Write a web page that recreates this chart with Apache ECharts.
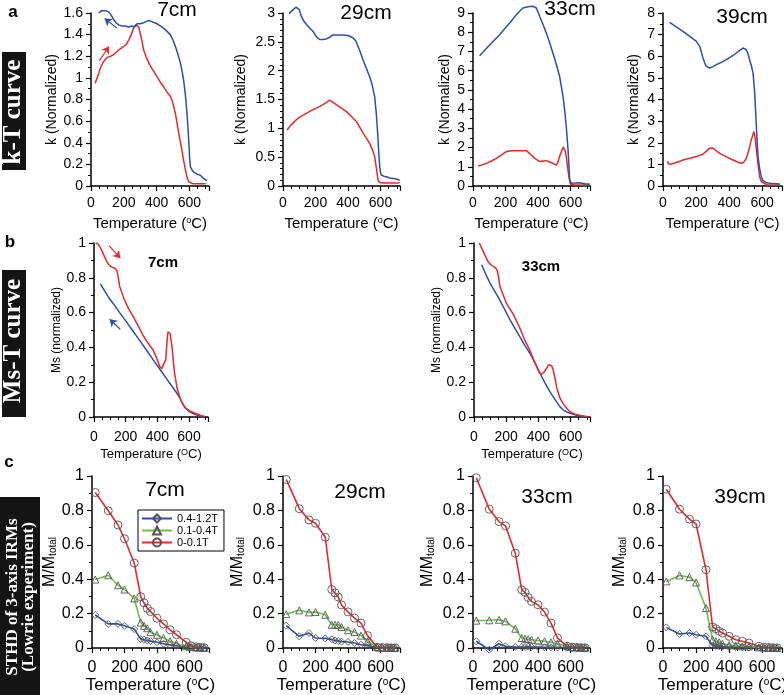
<!DOCTYPE html>
<html><head><meta charset="utf-8">
<script src="https://cdn.jsdelivr.net/npm/echarts@6/dist/echarts.min.js"></script>
<style>html,body{margin:0;padding:0;background:#fff}#c{width:784px;height:695px}</style>
</head><body><div id="c"></div>
<script>
// ---------------- DATA ----------------
// Row a: k-T curves  [temperature, k]
const kT7_heat = [[25,0.95],[31,0.96],[45,1.03],[57,1.09],[72,1.14],[87,1.17],[100,1.19],[118,1.20],[133,1.21],[148,1.23],[170,1.26],[199,1.29],[215,1.31],[230,1.35],[245,1.40],[260,1.46],[272,1.49],[281,1.50],[291,1.47],[301,1.41],[311,1.34],[321,1.26],[340,1.18],[362,1.11],[383,1.06],[403,1.01],[423,0.96],[443,0.92],[463,0.87],[484,0.83],[495,0.79],[504,0.74],[515,0.67],[525,0.58],[540,0.45],[555,0.33],[566,0.23],[576,0.15],[586,0.08],[596,0.04],[610,0.03],[626,0.02],[650,0.02],[675,0.02],[700,0.02]];
const kT7_cool = [[47,1.60],[62,1.62],[77,1.62],[92,1.62],[108,1.61],[123,1.58],[138,1.54],[153,1.51],[169,1.49],[189,1.48],[209,1.48],[230,1.47],[250,1.48],[265,1.47],[281,1.50],[300,1.50],[321,1.51],[337,1.52],[352,1.53],[372,1.52],[403,1.50],[423,1.48],[443,1.46],[464,1.43],[484,1.40],[500,1.35],[515,1.29],[530,1.22],[545,1.14],[556,1.06],[565,0.98],[574,0.87],[582,0.74],[590,0.58],[596,0.43],[601,0.28],[606,0.18],[616,0.15],[626,0.13],[646,0.11],[667,0.10],[687,0.07],[708,0.05]];
const kT29_heat = [[25,0.97],[50,1.06],[82,1.15],[113,1.21],[144,1.26],[175,1.31],[205,1.35],[226,1.38],[246,1.41],[267,1.45],[287,1.49],[308,1.45],[328,1.41],[359,1.35],[390,1.29],[420,1.21],[451,1.12],[472,1.02],[492,0.92],[513,0.83],[533,0.74],[549,0.64],[564,0.51],[575,0.30],[585,0.10],[595,0.06],[620,0.05],[660,0.05],[700,0.05],[718,0.06]];
const kT29_cool = [[37,2.99],[60,3.05],[80,3.10],[92,3.13],[100,3.06],[113,2.94],[128,2.86],[144,2.80],[165,2.74],[185,2.68],[205,2.59],[226,2.54],[246,2.54],[267,2.55],[287,2.58],[308,2.62],[338,2.62],[369,2.62],[400,2.61],[431,2.57],[447,2.52],[462,2.42],[477,2.31],[492,2.19],[513,2.04],[533,1.90],[549,1.75],[564,1.55],[574,1.26],[580,1.02],[585,0.80],[590,0.55],[595,0.34],[600,0.24],[605,0.19],[620,0.17],[636,0.16],[656,0.14],[677,0.13],[697,0.12],[718,0.10]];
const kT33_heat = [[31,1.04],[56,1.10],[82,1.18],[113,1.30],[144,1.44],[175,1.62],[205,1.79],[226,1.82],[246,1.84],[287,1.84],[328,1.84],[348,1.70],[369,1.53],[390,1.38],[410,1.27],[431,1.30],[451,1.32],[472,1.25],[492,1.18],[513,1.09],[523,1.25],[533,1.53],[546,1.85],[556,2.02],[562,2.00],[568,1.80],[574,1.53],[582,1.00],[590,0.49],[599,0.10],[620,0.06],[660,0.05],[700,0.05],[718,0.06]];
const kT33_cool = [[41,6.78],[82,7.15],[123,7.52],[164,7.87],[195,8.18],[226,8.48],[256,8.80],[287,9.09],[308,9.26],[338,9.33],[369,9.35],[390,9.26],[400,9.05],[410,8.83],[431,8.40],[451,7.96],[472,7.45],[492,6.91],[513,6.32],[533,5.70],[554,4.66],[564,3.95],[574,3.09],[585,1.88],[590,1.10],[595,0.31],[605,0.14],[630,0.15],[656,0.17],[687,0.12],[718,0.10]];
const kT39_heat = [[28,1.15],[32,1.02],[50,1.02],[85,1.10],[121,1.20],[162,1.28],[202,1.36],[242,1.48],[262,1.60],[282,1.75],[303,1.75],[323,1.62],[343,1.51],[383,1.35],[424,1.20],[454,1.10],[474,1.05],[489,1.10],[504,1.28],[519,1.65],[534,2.13],[545,2.40],[551,2.52],[558,2.20],[565,1.67],[575,1.00],[585,0.43],[595,0.20],[605,0.12],[625,0.06],[665,0.05],[706,0.05]];
const kT39_cool = [[40,7.57],[80,7.36],[121,7.15],[162,6.92],[202,6.69],[222,6.46],[232,6.20],[242,5.92],[252,5.70],[262,5.53],[282,5.45],[303,5.52],[323,5.61],[353,5.72],[383,5.84],[413,5.98],[444,6.15],[464,6.27],[484,6.38],[494,6.36],[504,6.30],[514,6.12],[524,5.84],[535,5.55],[545,5.22],[555,4.29],[560,3.50],[565,2.75],[570,2.00],[575,1.36],[585,0.80],[595,0.43],[605,0.25],[625,0.15],[665,0.11],[706,0.09]];

// Row b: Ms-T curves [temperature, Ms]
const msT7_heat = [[11,1.0],[25,0.995],[36,0.98],[50,0.955],[67,0.92],[83,0.89],[99,0.87],[115,0.86],[131,0.855],[145,0.84],[154,0.80],[162,0.75],[178,0.71],[194,0.67],[220,0.62],[246,0.58],[278,0.525],[309,0.47],[341,0.425],[373,0.385],[395,0.34],[415,0.29],[428,0.278],[440,0.285],[453,0.33],[460,0.42],[467,0.49],[474,0.495],[480,0.48],[487,0.44],[493,0.40],[501,0.32],[509,0.25],[525,0.165],[541,0.115],[562,0.07],[583,0.048],[615,0.03],[646,0.019],[680,0.008],[700,0.003]];
const msT7_cool = [[40,0.765],[70,0.72],[99,0.678],[131,0.64],[162,0.60],[204,0.548],[246,0.494],[288,0.44],[331,0.385],[373,0.33],[415,0.276],[457,0.222],[499,0.168],[525,0.135],[541,0.112],[552,0.09],[578,0.05],[604,0.03],[636,0.015],[667,0.006],[700,0.002]];
const msT33_heat = [[33,1.0],[50,0.965],[68,0.93],[89,0.89],[105,0.875],[120,0.865],[135,0.855],[145,0.84],[153,0.80],[161,0.75],[182,0.70],[203,0.65],[224,0.62],[244,0.59],[265,0.55],[285,0.51],[316,0.44],[330,0.415],[348,0.38],[368,0.335],[389,0.29],[405,0.255],[420,0.246],[436,0.26],[451,0.28],[462,0.30],[472,0.31],[482,0.295],[492,0.27],[503,0.22],[513,0.17],[533,0.11],[554,0.077],[575,0.05],[596,0.029],[627,0.016],[658,0.01],[690,0.004],[710,0.001]];
const msT33_cool = [[48,0.875],[73,0.82],[99,0.77],[130,0.72],[161,0.67],[192,0.615],[223,0.56],[254,0.51],[285,0.46],[316,0.41],[348,0.365],[379,0.31],[410,0.25],[441,0.195],[472,0.144],[503,0.10],[534,0.058],[555,0.04],[575,0.029],[606,0.018],[637,0.01],[680,0.003],[710,0.001]];

// Row c: STHD of 3-axis IRMs (Lowrie experiment)
const irmTemps = [20,100,160,200,260,300,320,340,360,400,440,480,520,580,610,640,665,690];
const irm7_hard = [0.192,0.14,0.14,0.129,0.11,0.052,0.048,0.044,0.04,0.033,0.025,0.017,0.013,0.006,0.004,0.002,0.001,0.0];
const irm7_mid  = [0.398,0.423,0.365,0.34,0.288,0.148,0.129,0.115,0.092,0.077,0.058,0.04,0.025,0.01,0.005,0.003,0.002,0.001];
const irm7_soft = [0.904,0.798,0.715,0.635,0.494,0.298,0.263,0.231,0.212,0.173,0.14,0.106,0.077,0.033,0.013,0.006,0.004,0.002];
const irm29_hard = [0.13,0.068,0.087,0.058,0.056,0.05,0.044,0.04,0.037,0.035,0.029,0.019,0.014,0.003,0.002,0.001,0.001,0.0];
const irm29_mid  = [0.197,0.219,0.207,0.209,0.193,0.135,0.135,0.135,0.122,0.103,0.093,0.072,0.039,0.004,0.002,0.001,0.001,0.0];
const irm29_soft = [0.98,0.81,0.745,0.725,0.644,0.34,0.32,0.296,0.25,0.21,0.174,0.145,0.072,0.004,0.003,0.002,0.001,0.001];
const irm33_hard = [0.039,-0.01,0.025,0.01,0.006,0.006,0.006,0.008,0.006,0.006,0.004,0.004,0.003,0.002,0.001,0.001,0.0,0.0];
const irm33_mid  = [0.159,0.161,0.164,0.155,0.112,0.058,0.054,0.052,0.048,0.044,0.039,0.033,0.025,0.01,0.005,0.003,0.002,0.001];
const irm33_soft = [0.99,0.807,0.735,0.71,0.551,0.338,0.323,0.294,0.271,0.251,0.209,0.145,0.058,0.01,0.005,0.003,0.002,0.001];
const irm39_hard = [0.12,0.081,0.087,0.077,0.068,0.014,0.012,0.01,0.008,0.006,0.005,0.004,0.003,0.002,0.001,0.001,0.0,0.0];
const irm39_mid  = [0.387,0.422,0.412,0.381,0.232,0.048,0.039,0.033,0.025,0.017,0.014,0.01,0.008,0.004,0.002,0.001,0.001,0.0];
const irm39_soft = [0.923,0.807,0.749,0.721,0.455,0.122,0.112,0.097,0.087,0.068,0.048,0.039,0.029,0.01,0.005,0.003,0.002,0.001];
const irmNames = ['0.4-1.2T','0.1-0.4T','0-0.1T'];

// Direction arrows (data coordinates)
const arrowA7heat = [[51,1.16],[110,1.29]];
const arrowA7cool = [[159,1.46],[83,1.55]];
const arrowB7heat = [[95,0.985],[166,0.913]];
const arrowB7cool = [[166,0.504],[99,0.562]];

const sampleTitles = ['7cm','29cm','33cm','39cm'];

// ---------------- CHART ----------------
const FONT = '"Liberation Sans", Arial, Helvetica, sans-serif';
const SERIF = '"Liberation Serif", "Times New Roman", serif';
const RED = '#e8282b', BLUE = '#2e4fa5', GREEN = '#6cbf4c';

const grids = [
  {left:91, top:13, width:118, height:173},
  {left:283, top:13, width:117, height:173},
  {left:473, top:13, width:117, height:173},
  {left:663, top:13, width:119, height:173},
  {left:94, top:243, width:114, height:174},
  {left:474, top:243, width:116, height:174},
  {left:92, top:476, width:117, height:172},
  {left:283, top:476, width:117, height:172},
  {left:473, top:476, width:117, height:172},
  {left:663, top:476, width:119, height:172}
].map(g => Object.assign({outerBoundsMode:'none', containLabel:false}, g));

function makeX(gi, o) {
  return {
    type:'value', gridIndex:gi, min:0, max:720, interval:200,
    name:o.name, nameLocation:'middle', nameGap:o.nameGap,
    nameTextStyle:{fontSize:o.nameSize, fontFamily:FONT, color:'#000',
      rich:{sup:{fontSize:o.supSize, fontFamily:FONT, color:'#000', verticalAlign:'top'}}},
    axisLine:{show:true, onZero:false, lineStyle:{color:'#000', width:1.5}},
    axisTick:{show:true, length:5, lineStyle:{color:'#000', width:1.2}},
    minorTick:{show:true, splitNumber:4, length:3, lineStyle:{color:'#000', width:1}},
    axisLabel:{fontSize:o.labelSize, fontFamily:FONT, color:'#000', margin:o.margin, showMaxLabel:false},
    splitLine:{show:false}, minorSplitLine:{show:false}
  };
}
function makeY(gi, o) {
  return {
    type:'value', gridIndex:gi, min:0, max:o.max, interval:o.interval,
    name:o.name, nameLocation:'middle', nameGap:o.nameGap,
    nameTextStyle:{fontSize:o.nameSize, fontFamily:FONT, color:'#000',
      rich:{sub:{fontSize:10, fontFamily:FONT, color:'#000', verticalAlign:'bottom'}}},
    axisLine:{show:true, onZero:false, lineStyle:{color:'#000', width:1.5}},
    axisTick:{show:true, length:5, lineStyle:{color:'#000', width:1.2}},
    minorTick:{show:true, splitNumber:o.minor, length:3, lineStyle:{color:'#000', width:1}},
    axisLabel:{fontSize:o.labelSize, fontFamily:FONT, color:'#000', margin:8},
    splitLine:{show:false}, minorSplitLine:{show:false}
  };
}

const xA = {name:'Temperature ({sup|o}C)', nameGap:30, nameSize:15, supSize:9, labelSize:14, margin:10};
const xB = {name:'Temperature ({sup|O}C)', nameGap:31, nameSize:13, supSize:9, labelSize:14, margin:13};
const xC = {name:'Temperature ({sup|o}C)', nameGap:28, nameSize:17, supSize:10, labelSize:16, margin:12};

const xAxes = [0,1,2,3].map(i => makeX(i, xA))
  .concat([4,5].map(i => makeX(i, xB)))
  .concat([6,7,8,9].map(i => makeX(i, xC)));

const kName = 'k (Normalized)';
const yAxes = [
  makeY(0, {max:1.6, interval:0.2, minor:2, name:kName, nameGap:27, nameSize:14, labelSize:14}),
  makeY(1, {max:3, interval:0.5, minor:5, name:kName, nameGap:35, nameSize:14, labelSize:14}),
  makeY(2, {max:9, interval:1, minor:2, name:kName, nameGap:21, nameSize:14, labelSize:14}),
  makeY(3, {max:8, interval:1, minor:2, name:kName, nameGap:22, nameSize:14, labelSize:14}),
  makeY(4, {max:1, interval:0.2, minor:2, name:'Ms (normalized)', nameGap:31, nameSize:12, labelSize:14}),
  makeY(5, {max:1, interval:0.2, minor:2, name:'Ms (normalized)', nameGap:31, nameSize:12, labelSize:14}),
  makeY(6, {max:1, interval:0.2, minor:2, name:'M/M{sub|total}', nameGap:30, nameSize:16, labelSize:16}),
  makeY(7, {max:1, interval:0.2, minor:2, name:'M/M{sub|total}', nameGap:37, nameSize:16, labelSize:16}),
  makeY(8, {max:1, interval:0.2, minor:2, name:'M/M{sub|total}', nameGap:37, nameSize:16, labelSize:16}),
  makeY(9, {max:1, interval:0.2, minor:2, name:'M/M{sub|total}', nameGap:35, nameSize:16, labelSize:16})
];

function curve(gi, data, color, extra) {
  return Object.assign({type:'line', xAxisIndex:gi, yAxisIndex:gi, data:data,
    symbol:'none', showSymbol:false, clip:false, silent:true, animation:false,
    lineStyle:{color:color, width:1.5}, itemStyle:{color:color}}, extra || {});
}
function arrow(pts, color) {
  return {silent:true, animation:false, symbol:['none','arrow'], symbolSize:7,
    lineStyle:{color:color, width:1.2, type:'solid'}, label:{show:false},
    data:[[{coord:pts[0]},{coord:pts[1]}]]};
}

const series = [
  curve(0, kT7_heat, RED, {markLine:arrow(arrowA7heat, RED)}),
  curve(0, kT7_cool, BLUE, {markLine:arrow(arrowA7cool, BLUE)}),
  curve(1, kT29_heat, RED), curve(1, kT29_cool, BLUE),
  curve(2, kT33_heat, RED), curve(2, kT33_cool, BLUE),
  curve(3, kT39_heat, RED), curve(3, kT39_cool, BLUE),
  curve(4, msT7_cool, BLUE, {markLine:arrow(arrowB7cool, BLUE)}),
  curve(4, msT7_heat, RED, {markLine:arrow(arrowB7heat, RED)}),
  curve(5, msT33_cool, BLUE), curve(5, msT33_heat, RED)
];

const irmSets = [
  [irm7_hard, irm7_mid, irm7_soft],
  [irm29_hard, irm29_mid, irm29_soft],
  [irm33_hard, irm33_mid, irm33_soft],
  [irm39_hard, irm39_mid, irm39_soft]
];
const irmColors = [BLUE, GREEN, RED];
const irmSymbols = ['diamond', 'triangle', 'circle'];
const irmSizes = [7, 7, 8];
irmSets.forEach((set, p) => {
  set.forEach((vals, k) => {
    series.push({
      type:'line', name:irmNames[k], xAxisIndex:6+p, yAxisIndex:6+p,
      data: irmTemps.map((t, i) => [t, vals[i]]),
      symbol:irmSymbols[k], symbolSize:irmSizes[k], showSymbol:true, clip:false,
      silent:true, animation:false,
      lineStyle:{color:irmColors[k], width:1.6},
      itemStyle:{color:'rgba(255,255,255,0)', borderColor:'#555', borderWidth:0.9}
    });
  });
});

const titleA = [[177,10],[366,13],[570,9],[742,17]];
const titleC = [[165,490],[360,492],[547,497],[740,497]];
const graphic = [];
sampleTitles.forEach((t, i) => {
  graphic.push({type:'text', x:titleA[i][0], y:titleA[i][1], silent:true,
    style:{text:t, fill:'#000', font:'21px ' + FONT, align:'center', verticalAlign:'middle'}});
  graphic.push({type:'text', x:titleC[i][0], y:titleC[i][1], silent:true,
    style:{text:t, fill:'#000', font:'21px ' + FONT, align:'center', verticalAlign:'middle'}});
});
graphic.push({type:'text', x:163, y:263, silent:true, style:{text:sampleTitles[0], fill:'#000', font:'bold 15px ' + FONT, align:'center', verticalAlign:'middle'}});
graphic.push({type:'text', x:541, y:267, silent:true, style:{text:sampleTitles[2], fill:'#000', font:'bold 15px ' + FONT, align:'center', verticalAlign:'middle'}});
// panel letters
[['a',13,12],['b',10,242],['c',9,462]].forEach(l => {
  graphic.push({type:'text', x:l[1], y:l[2], silent:true, style:{text:l[0], fill:'#000', font:'bold 17px ' + FONT, align:'center', verticalAlign:'middle'}});
});
// row labels (black boxes)
graphic.push({type:'rect', silent:true, shape:{x:2, y:52, width:24, height:118}, style:{fill:'#141414'}});
graphic.push({type:'text', x:14, y:112, rotation:Math.PI/2, silent:true, style:{text:'k-T curve', fill:'#fff', font:'bold 25px ' + SERIF, align:'center', verticalAlign:'middle'}});
graphic.push({type:'rect', silent:true, shape:{x:2, y:270, width:24, height:147}, style:{fill:'#141414'}});
graphic.push({type:'text', x:14, y:341, rotation:Math.PI/2, silent:true, style:{text:'Ms-T curve', fill:'#fff', font:'bold 25px ' + SERIF, align:'center', verticalAlign:'middle'}});
graphic.push({type:'rect', silent:true, shape:{x:0, y:497, width:40, height:198}, style:{fill:'#141414'}});
graphic.push({type:'text', x:21, y:597, rotation:Math.PI/2, silent:true, style:{text:'STHD of 3-axis IRMs\n(Lowrie experiment)', fill:'#fff', font:'bold 17px ' + SERIF, lineHeight:16, align:'center', verticalAlign:'middle'}});

const option = {
  animation:false,
  backgroundColor:'#fff',
  textStyle:{fontFamily:FONT},
  grid:grids, xAxis:xAxes, yAxis:yAxes, series:series,
  legend:{
    left:138, top:510, orient:'vertical', itemGap:1, itemWidth:30, itemHeight:10,
    padding:[3,6,3,3], backgroundColor:'#fff', borderColor:'#000', borderWidth:1, borderRadius:0,
    selectedMode:false, data:irmNames,
    textStyle:{fontSize:11, fontFamily:FONT, color:'#000'}
  },
  graphic:graphic
};
const chart = echarts.init(document.getElementById('c'), null, {renderer:'canvas'});
chart.setOption(option);
</script></body></html>
